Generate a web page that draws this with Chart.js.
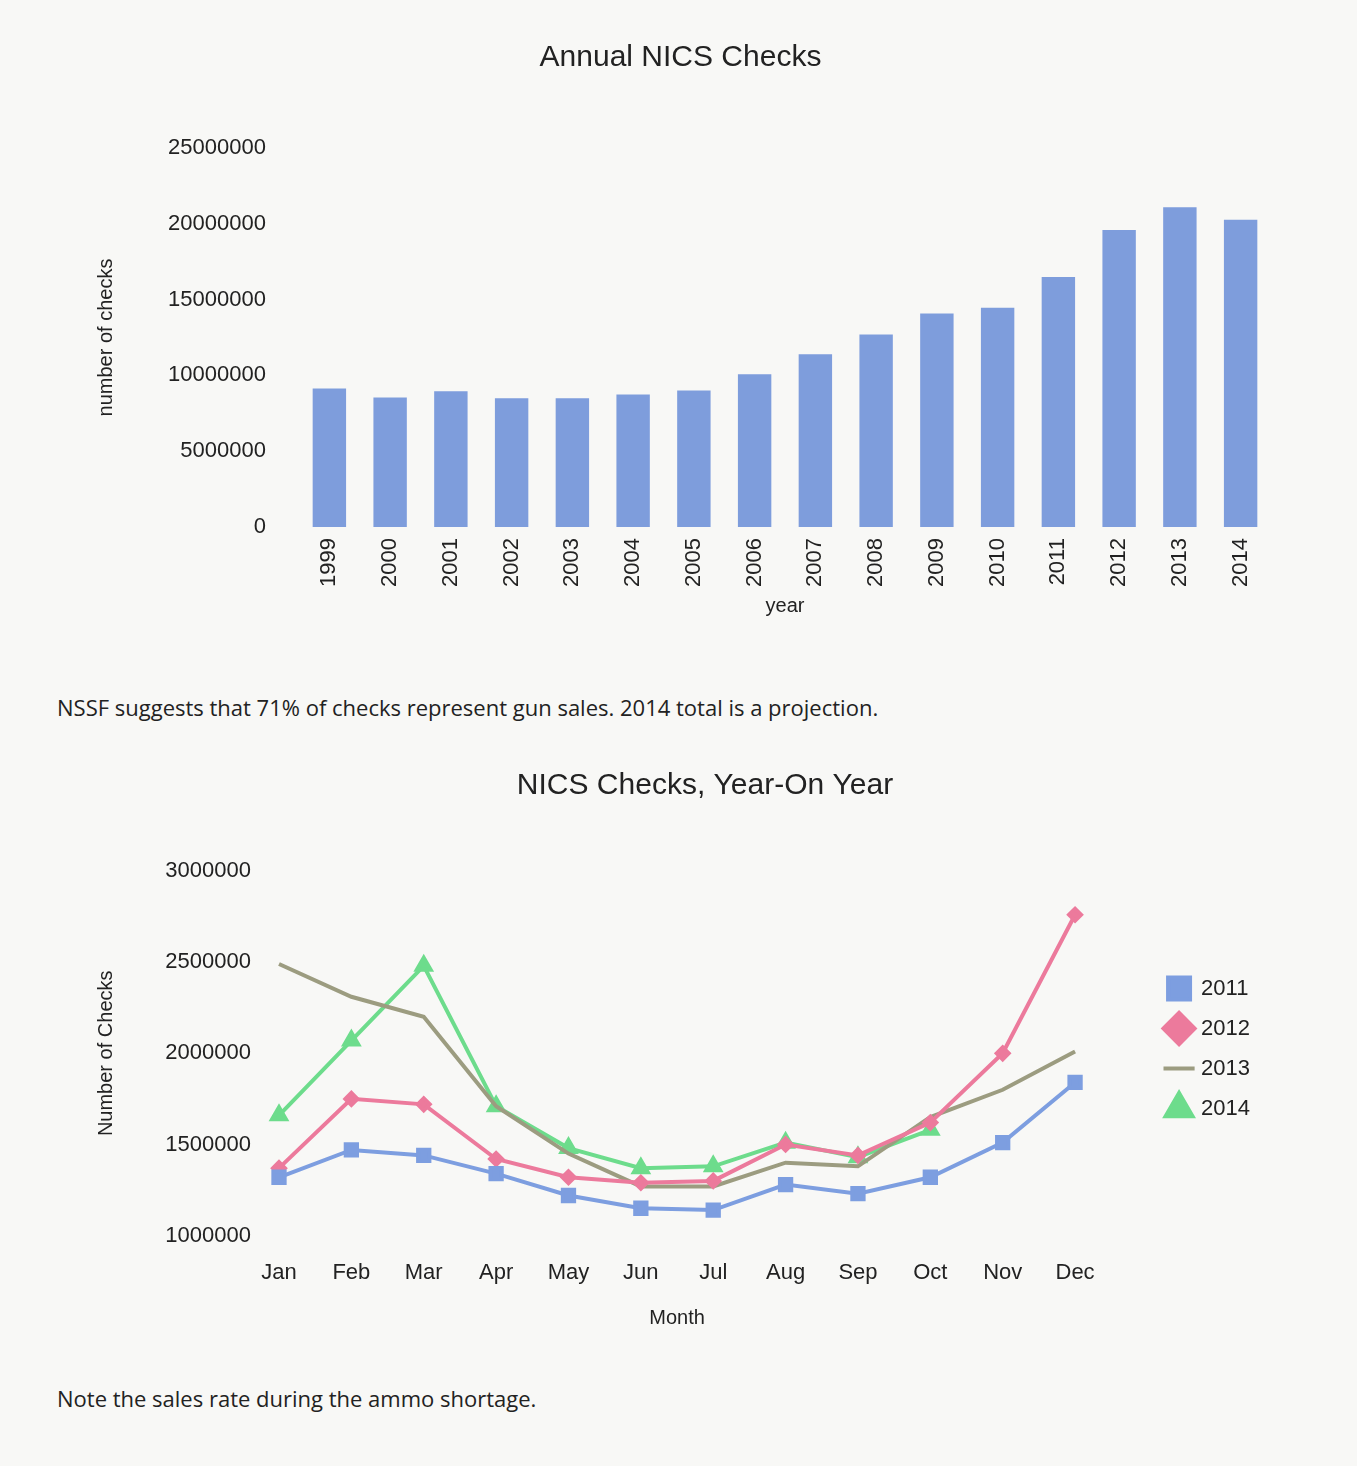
<!DOCTYPE html>
<html><head>
<script src="https://cdn.jsdelivr.net/npm/chart.js@4"></script>
<style>
body{margin:0;background:#f8f8f6;width:1357px;height:1466px;position:relative;overflow:hidden;font-family:"Liberation Sans",Arial,sans-serif}
.box{position:absolute}
.note{position:absolute;font-family:"Open Sans","DejaVu Sans",sans-serif;font-size:22px;color:#222}
</style></head><body>
<div class="box" style="left:90px;top:30px;width:1200px;height:592px"><canvas id="c1"></canvas></div>
<div class="note" style="left:57px;top:692px">NSSF suggests that 71% of checks represent gun sales. 2014 total is a projection.</div>
<div class="box" style="left:90px;top:763px;width:1230px;height:571px"><canvas id="c2"></canvas></div>
<div class="note" style="left:57px;top:1383px">Note the sales rate during the ammo shortage.</div>
<script>
const years=["1999","2000","2001","2002","2003","2004","2005","2006","2007","2008","2009","2010","2011","2012","2013","2014"];
const annualChecks=[9140000,8550000,8950000,8490000,8490000,8750000,9000000,10070000,11400000,12700000,14080000,14470000,16500000,19600000,21100000,20260000];
const months=["Jan","Feb","Mar","Apr","May","Jun","Jul","Aug","Sep","Oct","Nov","Dec"];
const s2011=[1320000,1470000,1440000,1340000,1220000,1150000,1140000,1280000,1230000,1320000,1510000,1840000];
const s2012=[1370000,1750000,1720000,1420000,1320000,1290000,1300000,1500000,1440000,1620000,2000000,2760000];
const s2013=[2490000,2310000,2200000,1710000,1450000,1270000,1270000,1400000,1380000,1650000,1800000,2010000];
const s2014=[1660000,2070000,2480000,1710000,1480000,1370000,1380000,1510000,1430000,1580000,null,null];
Chart.defaults.font.family='"Liberation Sans",Arial,sans-serif';
Chart.defaults.color='#222';
Chart.defaults.animation=false;
const plain=v=>String(v);
new Chart(document.getElementById('c1'),{type:'bar',
data:{labels:years,datasets:[{data:annualChecks,backgroundColor:'#7e9ddc',categoryPercentage:1,barPercentage:0.55}]},
options:{responsive:true,maintainAspectRatio:false,
layout:{padding:{right:19}},
plugins:{legend:{display:false},title:{display:true,text:'Annual NICS Checks',font:{size:30,weight:'normal'},padding:{top:10,bottom:72}}},
scales:{
x:{grid:{display:false},border:{display:false},ticks:{font:{size:22},minRotation:90,maxRotation:90},title:{display:true,text:'year',font:{size:20}}},
y:{min:0,max:25000000,afterFit:s=>{s.width=209},grid:{display:false},border:{display:false},ticks:{stepSize:5000000,font:{size:22},padding:25,callback:plain},title:{display:true,text:'number of checks',font:{size:20}}}}}});
const mk=(l,d,c,ps,r)=>({label:l,data:d,borderColor:c,backgroundColor:c,borderWidth:4,pointStyle:ps,pointRadius:r,tension:0,spanGaps:false});
const legendShift={id:'legendShift',afterInit(chart){
  const lg=chart.legend; if(!lg)return;
  const f=lg.fit, d=lg.draw;
  lg.fit=function(){f.call(this);this.width+=135;};
  lg.draw=function(){const c=this.ctx;c.save();c.translate(75,0);d.call(this);c.restore();};
}};
new Chart(document.getElementById('c2'),{type:'line',
data:{labels:months,datasets:[mk('2011',s2011,'#7d9ee0','rect',8),mk('2012',s2012,'#ec7a9c','rectRot',6),mk('2013',s2013,'#9c9c80','line',0),mk('2014',s2014,'#6ddc8c','triangle',8)]},
plugins:[legendShift],
options:{responsive:true,maintainAspectRatio:false,
plugins:{title:{display:true,text:'NICS Checks, Year-On Year',font:{size:30,weight:'normal'},padding:{top:5,bottom:67}},
legend:{position:'right',labels:{usePointStyle:true,font:{size:22},padding:18,boxWidth:60}}},
scales:{
x:{offset:false,grid:{display:false},border:{display:false},ticks:{font:{size:22},padding:16},title:{display:true,text:'Month',font:{size:20}}},
y:{min:1000000,max:3000000,afterFit:s=>{s.width=189},grid:{display:false},border:{display:false},ticks:{stepSize:500000,font:{size:22},padding:20,callback:plain},title:{display:true,text:'Number of Checks',font:{size:20}}}}}});
</script>
</body></html>
